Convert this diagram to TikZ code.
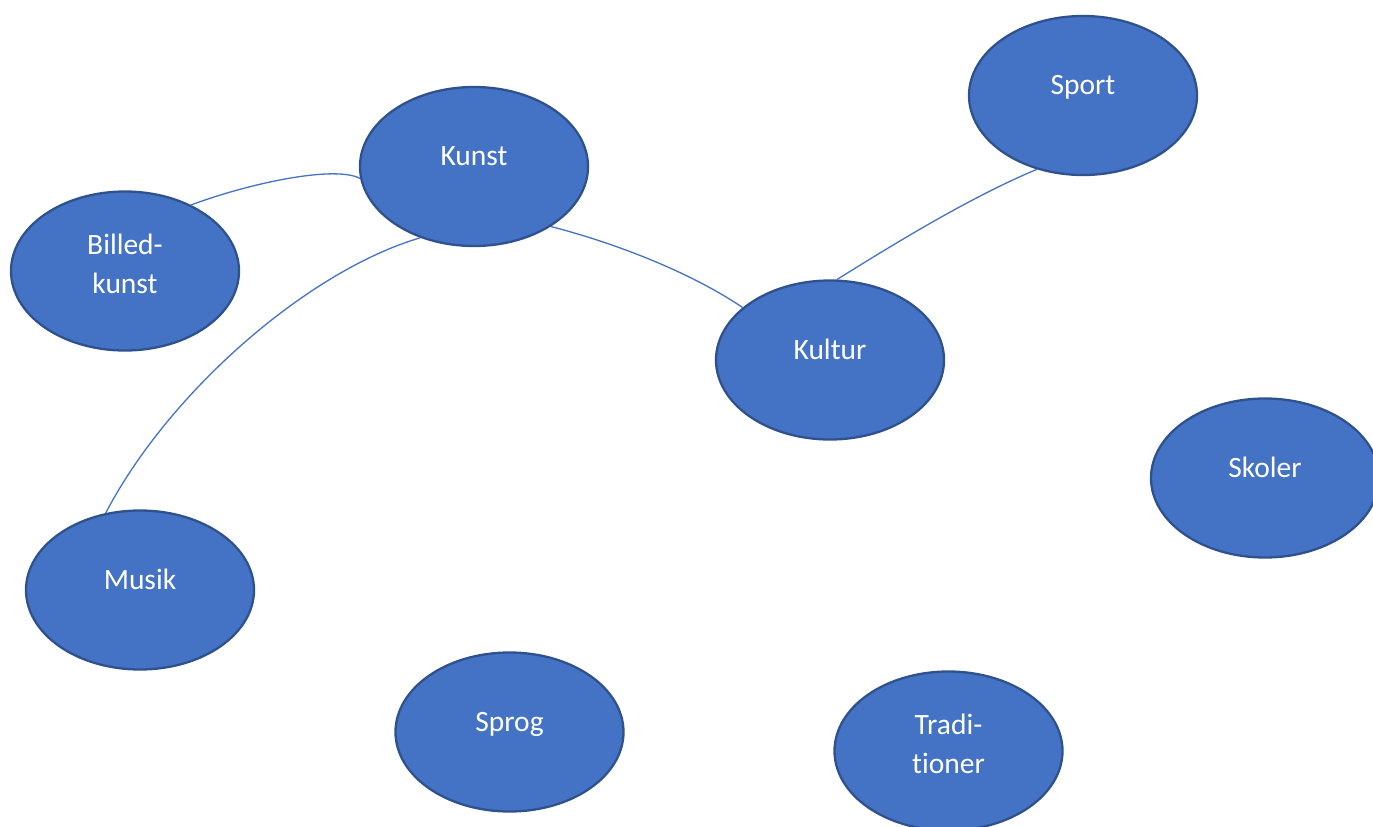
\documentclass[tikz,border=0pt]{standalone}
\usepackage{fontspec}
\setmainfont{Carlito}[Ligatures=NoCommon]
\usetikzlibrary{shapes.geometric}
\definecolor{ofill}{HTML}{4472C4}
\definecolor{oline}{HTML}{2F528F}
\newcommand{\onelbl}[1]{\raisebox{1pt}[0pt][0pt]{#1}}
\newcommand{\twolbl}[2]{\raisebox{17pt}[0pt][0pt]{\begin{tabular}[t]{@{}c@{}}#1\\#2\end{tabular}}}
\tikzset{
  bubble/.style={ellipse, fill=ofill, draw=oline, line width=2.3pt, inner sep=0pt,
    minimum width=228pt, minimum height=159pt, text=white,
    font=\fontsize{29.5}{39}\selectfont},
  link/.style={draw=ofill, line width=1.3pt}
}
\begin{document}
\begin{tikzpicture}[x=1pt,y=-1pt]
\useasboundingbox (0,0) rectangle (1373,827);
\clip (0,0) rectangle (1373,827);
\node[bubble] (sport) at (1083,95.5) {\onelbl{Sport}};
\node[bubble] (kunst) at (474,166.5) {\onelbl{Kunst}};
\node[bubble] (billed) at (125,271) {\twolbl{Billed-}{kunst}};
\node[bubble] (kultur) at (830,360) {\onelbl{Kultur}};
\node[bubble] (skoler) at (1265,478) {\onelbl{Skoler}};
\node[bubble] (musik) at (140,590) {\onelbl{Musik}};
\node[bubble] (sprog) at (509.5,732) {\onelbl{Sprog}};
\node[bubble] (tradi) at (948.5,751) {\twolbl{Tradi-}{tioner}};
\draw[link] (billed.45) .. controls (250,183) and (335,165) .. (kunst.186);
\draw[link] (kunst.233) .. controls (310,270) and (170,390) .. (musik.114);
\draw[link] (kunst.-38) .. controls (615,243) and (690,272) .. (kultur.149);
\draw[link] (kultur.85) .. controls (900,240) and (975,195) .. (sport.238);
\end{tikzpicture}
\end{document}
